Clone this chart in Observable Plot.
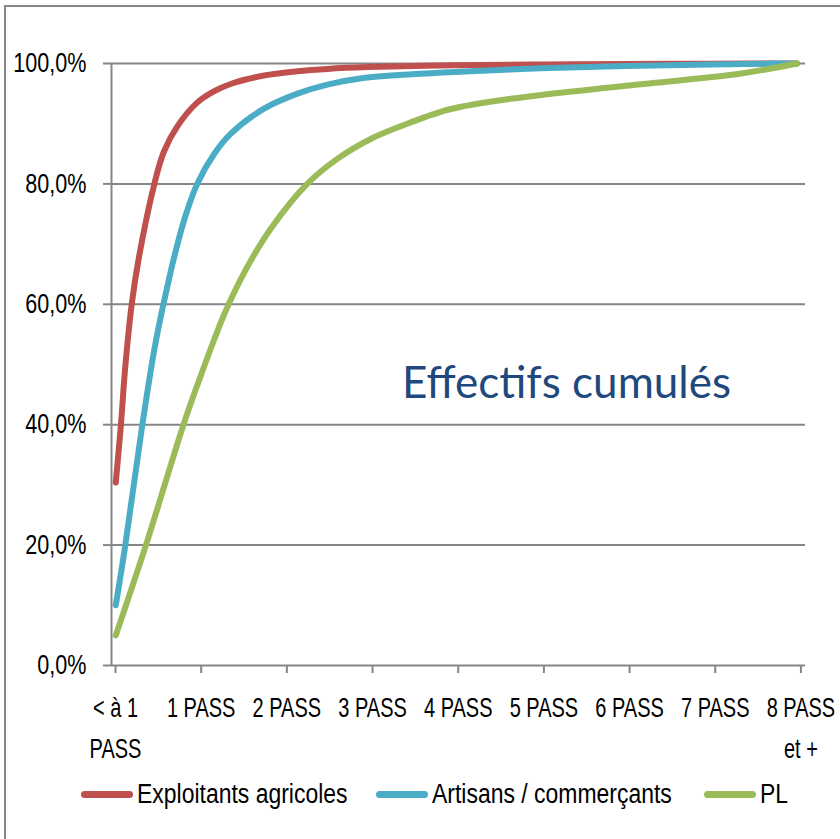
<!DOCTYPE html>
<html>
<head>
<meta charset="utf-8">
<script src="https://cdn.jsdelivr.net/npm/d3@7"></script>
<script src="https://cdn.jsdelivr.net/npm/@observablehq/plot@0.6"></script>
<style>
  html, body { margin: 0; padding: 0; background: #fff; overflow: hidden; }
  #wrap { position: relative; width: 840px; height: 839px; }
  #frame { position: absolute; left: 4px; top: 5px; width: 900px; height: 900px; border: 2px solid #868686; box-sizing: border-box; pointer-events: none; }
  #chart { position: absolute; left: 0; top: 0; }
  #legend { position: absolute; left: 0; top: 774px; width: 840px; height: 40px;
            font-family: "Liberation Sans", Arial, sans-serif; font-size: 27px; color: #000; }
  .item { position: absolute; top: 0; height: 40px; display: flex; align-items: center; white-space: nowrap; }
  .sw { display: inline-block; width: 52px; height: 7px; border-radius: 4px; margin-right: 4px; }
  .lt { display: inline-block; transform: scaleX(0.85); transform-origin: left center; }
</style>
</head>
<body>
<div id="wrap">
  <div id="chart"></div>
  <div id="legend"></div>
  <div id="frame"></div>
</div>
<script>
// ---- data ----
const seriesNames = ["Exploitants agricoles", "Artisans / commerçants", "PL"];
const seriesColors = ["#C0504D", "#4BACC6", "#9BBB59"];

const xTicks = [0, 1, 2, 3, 4, 5, 6, 7, 8];
const xTickLabels = ["< à 1\nPASS", "1 PASS", "2 PASS", "3 PASS", "4 PASS", "5 PASS", "6 PASS", "7 PASS", "8 PASS\net +"];
const yTicks = [0, 20, 40, 60, 80, 100];
const annotation = "Effectifs cumulés";

// Exploitants agricoles
const agriX = [0.05, 0.11, 0.16, 0.237, 0.32, 0.50, 0.61, 0.77, 1.0, 1.2, 1.39, 1.78, 2.17, 2.52, 3.0, 4.0, 5.0, 6.0, 7.0, 8.0];
const agriY = [30.4, 40.0, 49.5, 60.1, 67.8, 80.0, 85.3, 89.6, 93.5, 95.4, 96.6, 98.0, 98.7, 99.1, 99.4, 99.7, 99.85, 99.93, 99.97, 100];
// Artisans / commerçants
const artX = [0.05, 0.16, 0.36, 0.50, 0.60, 0.75, 0.87, 1.0, 1.2, 1.39, 1.78, 2.17, 2.52, 2.94, 3.5, 4.0, 5.0, 6.0, 7.0, 8.0];
const artY = [10.0, 19.9, 40.0, 52.5, 59.6, 68.9, 75.0, 80.0, 85.0, 88.3, 92.5, 95.0, 96.5, 97.6, 98.2, 98.6, 99.2, 99.6, 99.85, 100];
// PL
const plX = [0.05, 0.40, 0.84, 1.0, 1.2, 1.33, 1.55, 1.86, 2.29, 2.64, 3.03, 3.38, 3.95, 4.69, 6.0, 7.33, 8.0];
const plY = [5.0, 19.9, 40.0, 46.5, 54.2, 58.8, 65.3, 72.6, 80.1, 84.2, 87.5, 89.6, 92.4, 94.2, 96.3, 98.3, 100];

// ---- build table ----
const rows = [];
[[agriX, agriY], [artX, artY], [plX, plY]].forEach(([xs, ys], k) => {
  xs.forEach((x, i) => rows.push({series: seriesNames[k], x, y: ys[i]}));
});

const axisFont = '"Liberation Sans", Arial, sans-serif';
const fmtPct = d => d.toFixed(1).replace(".", ",") + "%";

const chart = Plot.plot({
  width: 840,
  height: 775,
  marginLeft: 111,
  marginRight: 35,
  marginTop: 63,
  marginBottom: 110,
  x: {domain: [0, 8.1]},
  y: {domain: [0, 100]},
  color: {domain: seriesNames, range: seriesColors},
  style: {fontFamily: axisFont, fontSize: "27px", color: "#000", background: "transparent"},
  marks: [
    Plot.gridY(yTicks, {stroke: "#868686", strokeOpacity: 1, strokeWidth: 2}),
    Plot.ruleX([0], {stroke: "#868686", strokeWidth: 2}),
    Plot.axisY(yTicks, {tickSize: 8, tickPadding: 17, tickFormat: fmtPct, stroke: "#868686", strokeWidth: 2, fill: "#000", fontSize: 27, label: null}),
    Plot.axisX(xTicks, {tickSize: 8, tickPadding: 14, tickFormat: d => xTickLabels[d], stroke: "#868686", strokeWidth: 2, fill: "#000", fontSize: 27, lineHeight: 1.52, dx: 4, label: null}),
    Plot.line(rows, {x: "x", y: "y", z: "series", stroke: "series", strokeWidth: 6, curve: "catmull-rom", strokeLinecap: "round", strokeLinejoin: "round"}),
    Plot.text([annotation], {frameAnchor: "middle", dx: 108, dy: 19, fontSize: 44, fill: "#1F497D", fontFamily: "Lato, 'Liberation Sans', sans-serif"})
  ]
});

// condense the axis labels horizontally (the reference uses a narrow face)
function condense(selector, s) {
  chart.querySelectorAll(selector).forEach(t => {
    const tr = t.getAttribute("transform") || "";
    t.setAttribute("transform", (tr + ` scale(${s},1)`).trim());
  });
}
condense('g[aria-label="x-axis tick label"] text', 0.74);
condense('g[aria-label="y-axis tick label"] text', 0.80);

document.getElementById("chart").appendChild(chart);

// ---- legend ----
const legendLefts = [81, 376, 704];
const legend = document.getElementById("legend");
seriesNames.forEach((name, i) => {
  const item = document.createElement("div");
  item.className = "item";
  item.style.left = legendLefts[i] + "px";
  const sw = document.createElement("span");
  sw.className = "sw";
  sw.style.background = seriesColors[i];
  const t = document.createElement("span");
  t.className = "lt";
  t.textContent = name;
  item.appendChild(sw);
  item.appendChild(t);
  legend.appendChild(item);
});
</script>
</body>
</html>
